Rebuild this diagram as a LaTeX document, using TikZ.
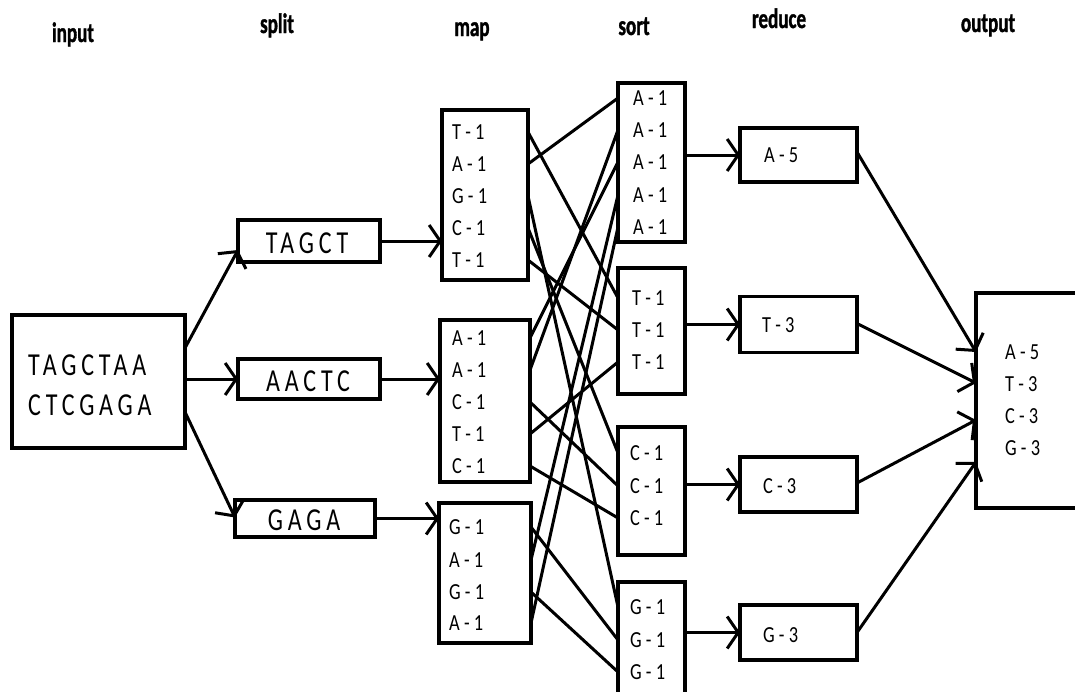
\documentclass[tikz,border=0pt]{standalone}
\usepackage{fontspec}
\setmainfont{Carlito}[FakeStretch=0.8]
\newfontfamily\hdrfont{Carlito}[FakeStretch=0.68,BoldFeatures={FakeBold=1.2}]
\newfontfamily\seqfont{Carlito}[FakeStretch=0.75,LetterSpace=15]
\usetikzlibrary{arrows.meta,calc}

\begin{document}
\begin{tikzpicture}[x=1pt,y=-1pt,
  box/.style={draw,line width=3.5pt,inner sep=0pt,outer sep=0pt},
  hdr/.style={anchor=base,inner sep=0pt,font=\hdrfont\bfseries\fontsize{28}{28}\selectfont},
  entry/.style={anchor=west,inner sep=0pt,font=\fontsize{23}{23}\selectfont},
  seq/.style={inner sep=0pt,font=\seqfont\fontsize{32}{40}\selectfont},
  link/.style={line width=3pt},
  arr/.style={line width=3pt,-{Straight Barb[length=11pt,width=32pt]}}]

\useasboundingbox (0,0) rectangle (1075,691);
\clip (0,0) rectangle (1075,691);
\fill[white] (0,0) rectangle (1075,691);

% column headings
\node[hdr] (hInput)  at (73,42)  {input};
\node[hdr] (hSplit)  at (277,33) {split};
\node[hdr] (hMap)    at (472,36) {map};
\node[hdr] (hSort)   at (634,35) {sort};
\node[hdr] (hReduce) at (779,28) {reduce};
\node[hdr] (hOutput) at (988,32) {output};

% input
\node[box,minimum width=173pt,minimum height=133pt] (input) at (98.5,381.5) {};
\node[seq,anchor=west] (in1) at (28,365) {TAGCTAA};
\node[seq,anchor=west] (in2) at (28,405) {CTCGAGA};

% split
\node[box,minimum width=142pt,minimum height=42pt] (split1) at (309,241) {};
\node[box,minimum width=142pt,minimum height=40pt] (split2) at (309,379) {};
\node[box,minimum width=140pt,minimum height=37pt] (split3) at (305,518.5) {};
\node[seq] (sp1) at (307,243) {TAGCT};
\node[seq] (sp2) at (308,381) {AACTC};
\node[seq] (sp3) at (304,520) {GAGA};

% map
\node[box,minimum width=86pt,minimum height=170pt] (map1) at (485,195) {};
\node[box,minimum width=90pt,minimum height=162pt] (map2) at (485,401) {};
\node[box,minimum width=92pt,minimum height=140pt] (map3) at (485,573) {};
\node[entry] (m11) at (452,132) {T - 1};
\node[entry] (m12) at (452,164) {A - 1};
\node[entry] (m13) at (452,196) {G - 1};
\node[entry] (m14) at (452,228) {C - 1};
\node[entry] (m15) at (452,260) {T - 1};
\node[entry] (m21) at (452,338) {A - 1};
\node[entry] (m22) at (452,370) {A - 1};
\node[entry] (m23) at (452,402) {C - 1};
\node[entry] (m24) at (452,434) {T - 1};
\node[entry] (m25) at (452,466) {C - 1};
\node[entry] (m31) at (449,527) {G - 1};
\node[entry] (m32) at (449,560) {A - 1};
\node[entry] (m33) at (449,592) {G - 1};
\node[entry] (m34) at (449,623) {A - 1};

% sort
\node[box,minimum width=67pt,minimum height=159pt] (sortA) at (651.5,162.5) {};
\node[box,minimum width=67pt,minimum height=126pt] (sortT) at (651.5,331) {};
\node[box,minimum width=67pt,minimum height=128pt] (sortC) at (651.5,491) {};
\node[box,minimum width=67pt,minimum height=138pt] (sortG) at (651.5,651) {};
\node[entry] (sa1) at (633,98)  {A - 1};
\node[entry] (sa2) at (633,130) {A - 1};
\node[entry] (sa3) at (633,162) {A - 1};
\node[entry] (sa4) at (633,195) {A - 1};
\node[entry] (sa5) at (633,227) {A - 1};
\node[entry] (st1) at (632,298) {T - 1};
\node[entry] (st2) at (632,330) {T - 1};
\node[entry] (st3) at (632,362) {T - 1};
\node[entry] (sc1) at (630,453) {C - 1};
\node[entry] (sc2) at (630,486) {C - 1};
\node[entry] (sc3) at (630,518) {C - 1};
\node[entry] (sg1) at (630,607) {G - 1};
\node[entry] (sg2) at (630,640) {G - 1};
\node[entry] (sg3) at (630,672) {G - 1};

% reduce
\node[box,minimum width=117pt,minimum height=54pt] (redA) at (798.5,155) {};
\node[box,minimum width=117pt,minimum height=56pt] (redT) at (798.5,324.5) {};
\node[box,minimum width=117pt,minimum height=55pt] (redC) at (798.5,484.5) {};
\node[box,minimum width=117pt,minimum height=55pt] (redG) at (798.5,632.5) {};
\node[entry] (ra) at (764,155) {A - 5};
\node[entry] (rt) at (762,325) {T - 3};
\node[entry] (rc) at (763,486) {C - 3};
\node[entry] (rg) at (763,635) {G - 3};

% output
\node[box,minimum width=114pt,minimum height=215pt] (output) at (1033,400.5) {};
\node[entry] (o1) at (1005,352) {A - 5};
\node[entry] (o2) at (1005,384) {T - 3};
\node[entry] (o3) at (1005,416) {C - 3};
\node[entry] (o4) at (1005,448) {G - 3};

% input -> split
\draw[arr] ([yshift=33.5pt]input.east) -- ([yshift=-9pt]split1.west);
\draw[arr] (split2.west -| input.east) -- (split2.west);
\draw[arr] ([yshift=-30.5pt]input.east) -- ([yshift=1pt]split3.west);

% split -> map
\draw[arr] (split1.east) -- (split1.east -| map1.west);
\draw[arr] (split2.east) -- (split2.east -| map2.west);
\draw[arr] (split3.east) -- (split3.east -| map3.west);

% map -> sort (shuffle)
\draw[link] (m11 -| map1.east) -- (st1 -| sortT.west);
\draw[link] (m12 -| map1.east) -- (sa1 -| sortA.west);
\draw[link] (m13 -| map1.east) -- (sg1 -| sortG.west);
\draw[link] (m14 -| map1.east) -- (sc1 -| sortC.west);
\draw[link] (m15 -| map1.east) -- (st2 -| sortT.west);
\draw[link] (m21 -| map2.east) -- (sa3 -| sortA.west);
\draw[link] (m22 -| map2.east) -- (sa2 -| sortA.west);
\draw[link] (m23 -| map2.east) -- (sc2 -| sortC.west);
\draw[link] (m24 -| map2.east) -- (st3 -| sortT.west);
\draw[link] (m25 -| map2.east) -- (sc3 -| sortC.west);
\draw[link] (m31 -| map3.east) -- (sg2 -| sortG.west);
\draw[link] (m32 -| map3.east) -- (sa4 -| sortA.west);
\draw[link] (m33 -| map3.east) -- (sg3 -| sortG.west);
\draw[link] (m34 -| map3.east) -- (sa5 -| sortA.west);

% sort -> reduce
\draw[arr] (redA.west -| sortA.east) -- (redA.west);
\draw[arr] (redT.west -| sortT.east) -- (redT.west);
\draw[arr] (redC.west -| sortC.east) -- (redC.west);
\draw[arr] (redG.west -| sortG.east) -- (redG.west);

% reduce -> output
\draw[arr] ([yshift=3pt]redA.east) -- ([yshift=48.5pt]output.west);
\draw[arr] ([yshift=1pt]redT.east) -- ([yshift=17.5pt]output.west);
\draw[arr] ([yshift=1.5pt]redC.east) -- ([yshift=-19.5pt]output.west);
\draw[arr] (redG.east) -- ([yshift=-61.5pt]output.west);
\end{tikzpicture}
\end{document}
